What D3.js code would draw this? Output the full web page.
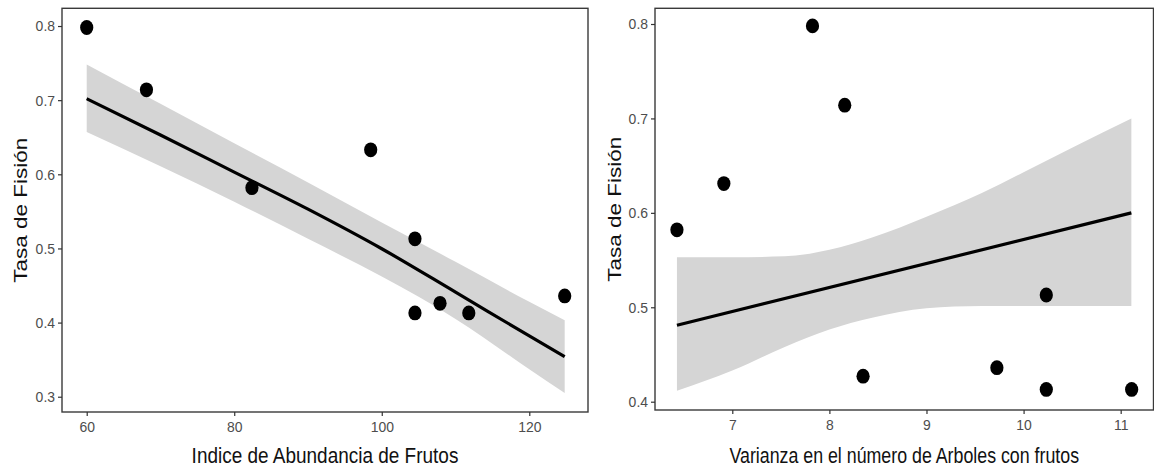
<!DOCTYPE html>
<html>
<head>
<meta charset="utf-8">
<script src="https://cdn.jsdelivr.net/npm/d3@7"></script>
<style>
  html, body { margin: 0; padding: 0; background: #fff; }
  svg { display: block; }
</style>
</head>
<body>
<svg id="chart" width="1154" height="471"></svg>
<script>
// ---------------- DATA ----------------
// Left panel: Indice de Abundancia de Frutos vs Tasa de Fisión
const leftX = [60, 68.1, 82.4, 98.5, 104.5, 104.5, 107.9, 111.8, 124.8];
const leftY = [0.798, 0.714, 0.582, 0.633, 0.513, 0.413, 0.426, 0.413, 0.436];
const leftFitX  = [60, 70, 80, 90, 100, 110, 120, 124.8];
const leftFitY  = [0.702, 0.653, 0.603, 0.553, 0.4996, 0.441, 0.382, 0.354];
const leftBandHi = [0.748, 0.695, 0.642, 0.589, 0.535, 0.482, 0.428, 0.403];
const leftBandLo = [0.657, 0.611, 0.563, 0.513, 0.462, 0.405, 0.337, 0.305];
const leftXTicks = [60, 80, 100, 120];
const leftYTicks = [0.3, 0.4, 0.5, 0.6, 0.7, 0.8];

// Right panel: Varianza en el número de Arboles con frutos vs Tasa de Fisión
const rightX = [6.43, 6.913, 7.826, 8.158, 8.347, 9.725, 10.234, 10.234, 11.113];
const rightY = [0.582, 0.631, 0.798, 0.714, 0.427, 0.436, 0.513, 0.413, 0.413];
const rightFitX = [6.43, 11.11];
const rightFitY = [0.481, 0.600];
const rightBandX  = [6.43, 7.0, 7.54, 8.0, 8.44, 9.0, 9.57, 10.0, 10.52, 11.11];
const rightBandHi = [0.553, 0.553, 0.554, 0.561, 0.574, 0.596, 0.621, 0.643, 0.670, 0.700];
const rightBandLo = [0.4116, 0.433, 0.458, 0.4765, 0.489, 0.499, 0.5014, 0.5014, 0.5014, 0.5014];
const rightXTicks = [7, 8, 9, 10, 11];
const rightYTicks = [0.4, 0.5, 0.6, 0.7, 0.8];

const yTitle = "Tasa de Fisión";
const leftXTitle = "Indice de Abundancia de Frutos";
const rightXTitle = "Varianza en el número de Arboles con frutos";

// ---------------- DRAW ----------------
const svg = d3.select("#chart");
svg.append("rect").attr("width", 1154).attr("height", 471).attr("fill", "#fff");

const FONT = "'Liberation Sans', Arial, sans-serif";
const TICK_SQ = 0.9;

function panel(cfg) {
  const x = d3.scaleLinear().domain(cfg.xDomain).range([cfg.x0, cfg.x1]);
  const y = d3.scaleLinear().domain(cfg.yDomain).range([cfg.y1, cfg.y0]);
  const g = svg.append("g");

  // band
  const bandData = cfg.bandX.map((v, i) => ({x: v, lo: cfg.bandLo[i], hi: cfg.bandHi[i]}));
  g.append("path")
    .datum(bandData)
    .attr("fill", "#d5d5d5")
    .attr("d", d3.area().x(d => x(d.x)).y0(d => y(d.lo)).y1(d => y(d.hi)).curve(d3.curveMonotoneX));

  // fit line
  const fitData = cfg.fitX.map((v, i) => ({x: v, y: cfg.fitY[i]}));
  g.append("path")
    .datum(fitData)
    .attr("fill", "none")
    .attr("stroke", "#000")
    .attr("stroke-width", 3.2)
    .attr("d", d3.line().x(d => x(d.x)).y(d => y(d.y)).curve(d3.curveMonotoneX));

  // points
  g.selectAll("ellipse.pt")
    .data(cfg.px.map((v, i) => ({x: v, y: cfg.py[i]})))
    .join("ellipse")
    .attr("class", "pt")
    .attr("cx", d => x(d.x))
    .attr("cy", d => y(d.y))
    .attr("rx", 6.6)
    .attr("ry", 7.4)
    .attr("fill", "#000");

  // border
  g.append("rect")
    .attr("x", cfg.x0).attr("y", cfg.y0)
    .attr("width", cfg.x1 - cfg.x0).attr("height", cfg.y1 - cfg.y0)
    .attr("fill", "none").attr("stroke", "#3a3a3a").attr("stroke-width", 1.4);

  // axes
  const ax = g.append("g").attr("transform", `translate(0,${cfg.y1})`)
    .call(d3.axisBottom(x).tickValues(cfg.xTicks).tickSize(4).tickPadding(5).tickFormat(d3.format("d")));
  const ay = g.append("g").attr("transform", `translate(${cfg.x0},0)`)
    .call(d3.axisLeft(y).tickValues(cfg.yTicks).tickSize(4).tickPadding(3).tickFormat(d3.format(".1f")));
  [ax, ay].forEach(a => {
    a.select(".domain").remove();
    a.selectAll(".tick line").attr("stroke", "#333").attr("stroke-width", 1.2);
    a.selectAll(".tick text")
      .attr("fill", "#4d4d4d")
      .attr("font-family", FONT)
      .attr("font-size", 15.5);
  });
  ax.selectAll(".tick text").attr("transform", `scale(${TICK_SQ},1)`);
  ay.selectAll(".tick text").each(function() {
    const t = d3.select(this);
    const xx = +t.attr("x");
    t.attr("transform", `translate(${xx},0) scale(${TICK_SQ},1) translate(${-xx},0)`);
  });

  // x title, squeezed to the reference width
  const xt = g.append("text")
    .attr("text-anchor", "middle")
    .attr("font-family", FONT)
    .attr("font-size", 22.5)
    .attr("fill", "#111")
    .text(cfg.xTitle);
  const sx = cfg.xTitleW / xt.node().getComputedTextLength();
  xt.attr("transform", `translate(${(cfg.x0 + cfg.x1) / 2},${cfg.xTitleY}) scale(${sx},1)`);

  g.append("text")
    .attr("transform", `translate(${cfg.yTitleX},${(cfg.y0 + cfg.y1) / 2}) scale(0.85,1) rotate(-90)`)
    .attr("text-anchor", "middle")
    .attr("font-family", FONT)
    .attr("font-size", 22.5)
    .attr("fill", "#111")
    .text(yTitle);
}

panel({
  x0: 62, x1: 588, y0: 8.3, y1: 412,
  xDomain: [56.65, 127.96], yDomain: [0.2794, 0.8239],
  px: leftX, py: leftY,
  fitX: leftFitX, fitY: leftFitY,
  bandX: leftFitX, bandLo: leftBandLo, bandHi: leftBandHi,
  xTicks: leftXTicks, yTicks: leftYTicks,
  xTitle: leftXTitle, xTitleW: 267, xTitleY: 463, yTitleX: 27
});

panel({
  x0: 655, x1: 1153.5, y0: 8.3, y1: 410,
  xDomain: [6.204, 11.338], yDomain: [0.39121, 0.81663],
  px: rightX, py: rightY,
  fitX: rightFitX, fitY: rightFitY,
  bandX: rightBandX, bandLo: rightBandLo, bandHi: rightBandHi,
  xTicks: rightXTicks, yTicks: rightYTicks,
  xTitle: rightXTitle, xTitleW: 350, xTitleY: 463, yTitleX: 621
});
</script>
</body>
</html>
